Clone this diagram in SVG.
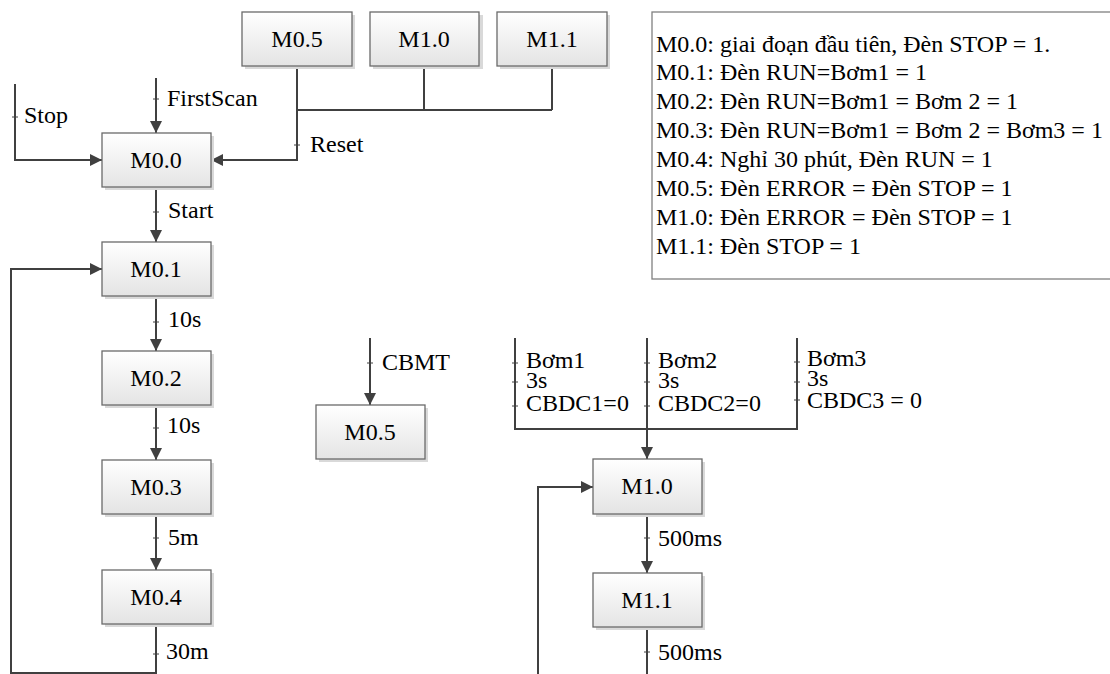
<svg xmlns="http://www.w3.org/2000/svg" width="1110" height="674" viewBox="0 0 1110 674">
<defs>
<linearGradient id="g" x1="0" y1="0" x2="0" y2="1">
<stop offset="0" stop-color="#ffffff"/>
<stop offset="1" stop-color="#e4e4e4"/>
</linearGradient>
<marker id="ah" markerWidth="12" markerHeight="12" viewBox="0 0 12 12" refX="12" refY="6" orient="auto" markerUnits="userSpaceOnUse">
<path d="M0,0 L12,6 L0,12 Z" fill="#404040"/>
</marker>
</defs>
<style>
.box{fill:url(#g);stroke:#6a6a6a;stroke-width:1.3}
.sh{fill:#d9d9d9}
text{font-family:"Liberation Serif","Times New Roman",serif;font-size:24px;fill:#000}
.c{text-anchor:middle}
.ln{fill:none;stroke:#404040;stroke-width:2}
.ar{fill:none;stroke:#404040;stroke-width:2;marker-end:url(#ah)}
.tk{stroke:#404040;stroke-width:1}
.lg{fill:#fff;stroke:#808080;stroke-width:1.3}
</style>
<g id="connectors">
<path class="ln" d="M297,66 V110 M424,66 V110 M552,66 V110 M297,110 H552"/>
<path class="ar" d="M297,110 V160 H211"/>
<line class="tk" x1="294" y1="145" x2="300" y2="145"/>
<path class="ar" d="M15,84 V160 H102"/>
<line class="tk" x1="12" y1="117" x2="18" y2="117"/>
<path class="ar" d="M156,78 V133"/>
<line class="tk" x1="153" y1="99" x2="159" y2="99"/>
<path class="ar" d="M156,187 V242"/>
<line class="tk" x1="153" y1="212" x2="159" y2="212"/>
<path class="ar" d="M156,296 V351"/>
<line class="tk" x1="153" y1="322" x2="159" y2="322"/>
<path class="ar" d="M156,405 V460"/>
<line class="tk" x1="153" y1="428" x2="159" y2="428"/>
<path class="ar" d="M156,514 V570"/>
<line class="tk" x1="153" y1="538" x2="159" y2="538"/>
<path class="ar" d="M156,624 V673 H11 V269 H102"/>
<line class="tk" x1="153" y1="654" x2="159" y2="654"/>
<path class="ar" d="M370,338 V405"/>
<line class="tk" x1="367" y1="363" x2="373" y2="363"/>
<path class="ln" d="M515,338 V429 H797 V338 M647,338 V429"/>
<path class="ar" d="M647,429 V459"/>
<line class="tk" x1="512" y1="363" x2="518" y2="363"/>
<line class="tk" x1="512" y1="382" x2="518" y2="382"/>
<line class="tk" x1="512" y1="406" x2="518" y2="406"/>
<line class="tk" x1="644" y1="363" x2="650" y2="363"/>
<line class="tk" x1="644" y1="382" x2="650" y2="382"/>
<line class="tk" x1="644" y1="406" x2="650" y2="406"/>
<line class="tk" x1="794" y1="362" x2="800" y2="362"/>
<line class="tk" x1="794" y1="382" x2="800" y2="382"/>
<line class="tk" x1="794" y1="400" x2="800" y2="400"/>
<path class="ar" d="M647,514 V573"/>
<line class="tk" x1="644" y1="538" x2="650" y2="538"/>
<path class="ln" d="M647,627 V674"/>
<line class="tk" x1="644" y1="652" x2="650" y2="652"/>
<path class="ar" d="M538,674 V487 H593"/>
</g>
<g id="labels">
<text x="24" y="123">Stop</text>
<text x="167" y="106">FirstScan</text>
<text x="310" y="152">Reset</text>
<text x="168" y="218">Start</text>
<text x="168" y="327">10s</text>
<text x="167" y="433">10s</text>
<text x="168" y="545">5m</text>
<text x="166" y="659">30m</text>
<text x="382" y="370">CBMT</text>
<text x="526" y="368">Bơm1</text>
<text x="526" y="388">3s</text>
<text x="526" y="411">CBDC1=0</text>
<text x="658" y="368">Bơm2</text>
<text x="658" y="388">3s</text>
<text x="658" y="411">CBDC2=0</text>
<text x="807" y="366">Bơm3</text>
<text x="807" y="386">3s</text>
<text x="807" y="408">CBDC3 = 0</text>
<text x="658" y="546">500ms</text>
<text x="658" y="660">500ms</text>
</g>
<g id="nodes">
<g id="n-top-M05"><rect class="sh" x="245" y="15" width="110" height="54"/><rect class="box" x="242" y="12" width="110" height="54"/><text class="c" x="297" y="47">M0.5</text></g>
<g id="n-top-M10"><rect class="sh" x="373" y="15" width="110" height="54"/><rect class="box" x="370" y="12" width="109" height="54"/><text class="c" x="424" y="47">M1.0</text></g>
<g id="n-top-M11"><rect class="sh" x="500" y="15" width="110" height="54"/><rect class="box" x="497" y="12" width="110" height="54"/><text class="c" x="552" y="47">M1.1</text></g>
<g id="n-M00"><rect class="sh" x="105" y="136" width="109" height="54"/><rect class="box" x="102" y="133" width="109" height="54"/><text class="c" x="156" y="168">M0.0</text></g>
<g id="n-M01"><rect class="sh" x="105" y="245" width="109" height="54"/><rect class="box" x="102" y="242" width="109" height="54"/><text class="c" x="156" y="277">M0.1</text></g>
<g id="n-M02"><rect class="sh" x="105" y="354" width="109" height="54"/><rect class="box" x="102" y="351" width="109" height="54"/><text class="c" x="156" y="386">M0.2</text></g>
<g id="n-M03"><rect class="sh" x="105" y="463" width="109" height="54"/><rect class="box" x="102" y="460" width="109" height="54"/><text class="c" x="156" y="495">M0.3</text></g>
<g id="n-M04"><rect class="sh" x="105" y="573" width="109" height="54"/><rect class="box" x="102" y="570" width="109" height="54"/><text class="c" x="156" y="605">M0.4</text></g>
<g id="n-M05"><rect class="sh" x="319" y="408" width="109" height="54"/><rect class="box" x="316" y="405" width="109" height="54"/><text class="c" x="370" y="440">M0.5</text></g>
<g id="n-M10"><rect class="sh" x="596" y="462" width="109" height="55"/><rect class="box" x="593" y="459" width="109" height="55"/><text class="c" x="647" y="494">M1.0</text></g>
<g id="n-M11"><rect class="sh" x="596" y="576" width="109" height="54"/><rect class="box" x="593" y="573" width="109" height="54"/><text class="c" x="647" y="608">M1.1</text></g>
</g>
<g id="legend">
<rect class="lg" x="652" y="12" width="470" height="267"/>
<text x="656" y="52">M0.0: giai đoạn đầu tiên, Đèn STOP = 1.</text>
<text x="656" y="80">M0.1: Đèn RUN=Bơm1 = 1</text>
<text x="656" y="109">M0.2: Đèn RUN=Bơm1 = Bơm 2 = 1</text>
<text x="656" y="138">M0.3: Đèn RUN=Bơm1 = Bơm 2 = Bơm3 = 1</text>
<text x="656" y="167">M0.4: Nghỉ 30 phút, Đèn RUN = 1</text>
<text x="656" y="196">M0.5: Đèn ERROR = Đèn STOP = 1</text>
<text x="656" y="225">M1.0: Đèn ERROR = Đèn STOP = 1</text>
<text x="656" y="254">M1.1: Đèn STOP = 1</text>
</g>
</svg>
